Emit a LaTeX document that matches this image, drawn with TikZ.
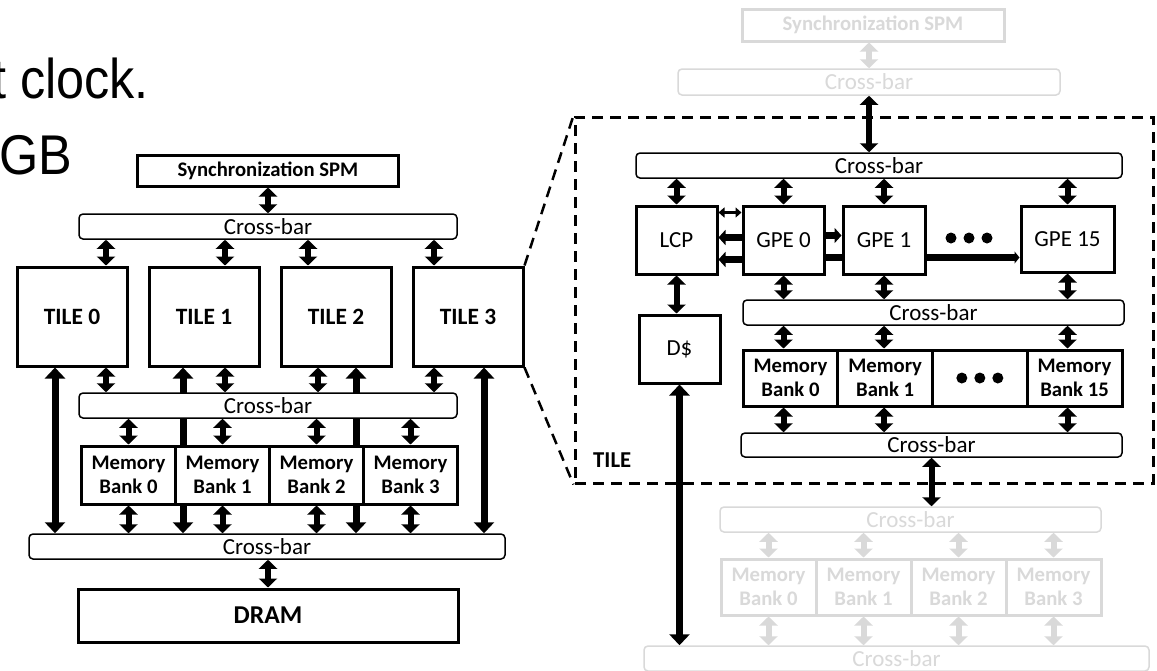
\documentclass[tikz,border=0pt]{standalone}
\usepackage{fontspec}
\setmainfont{Carlito}
\newfontfamily\slidefont{Liberation Sans}
\usetikzlibrary{arrows.meta, backgrounds}
\definecolor{fadeGray}{RGB}{217,217,217}

\begin{document}
\begin{tikzpicture}[x=1pt, y=-1pt,
  blk/.style={draw, line width=3pt, fill=white, inner sep=0pt, align=center},
  pe/.style={blk, font=\fontsize{23}{26}\selectfont, minimum width=81pt, minimum height=68pt},
  xbar/.style={draw, line width=1.5pt, rounded corners=4pt, fill=white, inner sep=0pt,
    minimum height=25pt, font=\fontsize{23}{26}\selectfont},
  lbl/.style={font=\bfseries\fontsize{20.7}{24}\selectfont},
  faded/.style={draw=fadeGray, text=fadeGray},
  slide/.style={anchor=base west, inner sep=0pt, font=\slidefont\fontsize{56}{60}\selectfont},
  dbl/.style={line width=6pt, {Triangle[width=18pt,length=9pt]}-{Triangle[width=18pt,length=9pt]}},
  tall/.style={line width=7pt, {Triangle[width=20pt,length=11pt]}-{Triangle[width=20pt,length=11pt]}},
  bus/.style={line width=7pt, -{Triangle[width=15pt,length=7pt]}},
]
  \useasboundingbox (0,0) rectangle (1157,670);
  \node[slide] (clk) at (-8,98) {\scalebox{0.9}[1]{t clock.}};
  \node[slide] (gb) at (-1,174) {\scalebox{0.9}[1]{GB}};

  % chip
  \node[blk, lbl, minimum width=261pt, minimum height=31pt] (spm) at (268,170.5) {Synchronization SPM};
  \node[xbar, minimum width=378pt] (xbA) at (268,226.5) {Cross-bar};
  \foreach \i in {0,...,3}
    \node[blk, font=\bfseries\fontsize{23.4}{26}\selectfont, minimum width=110pt,
      minimum height=99pt] (tile\i) at (72+132*\i,316.5) {TILE \i};
  \node[xbar, minimum width=378pt] (xbB) at (268,405.5) {Cross-bar};
  \foreach \i in {0,...,3}
    \node[blk, lbl, minimum width=94pt, minimum height=58pt] (bank\i) at (128.5+94*\i,475) {Memory\\Bank \i};
  \node[xbar, minimum width=476pt] (xbC) at (267,546.5) {Cross-bar};
  \node[blk, font=\bfseries\fontsize{25.7}{28}\selectfont, minimum width=380pt,
    minimum height=53pt] (dram) at (268,615.5) {DRAM};

  \draw[dbl] (spm) -- (xbA);
  \foreach \i/\x in {0/106,1/225,2/308,3/434}
    \draw[dbl] (xbA.south -| \x,0) -- (tile\i.north -| \x,0);
  \foreach \i/\x in {0/106,1/225,2/318,3/434}
    \draw[dbl] (tile\i.south -| \x,0) -- (xbB.north -| \x,0);
  \foreach \i in {0,...,3} {
    \draw[dbl] (xbB.south -| bank\i.north) -- (bank\i.north);
    \draw[dbl] (bank\i.south) -- (xbC.north -| bank\i.south);
  }
  \draw[dbl] (xbC.south -| dram.north) -- (dram.north);
  \begin{pgfonlayer}{background}
    \foreach \i/\x in {0/55,1/183,2/356,3/484}
      \draw[tall] (tile\i.south -| \x,0) -- (xbC.north -| \x,0);
  \end{pgfonlayer}

  % tile
  \node[blk, lbl, faded, minimum width=262pt, minimum height=32pt] (fSpm) at (873,25) {Synchronization SPM};
  \node[xbar, faded, minimum width=382pt, minimum height=26pt] (fXbA) at (869,82) {Cross-bar};
  \draw[dbl, fadeGray] (fXbA.north |- fSpm.south) -- (fXbA.north);

  \node[draw, line width=3pt, dash pattern=on 11pt off 7pt, minimum width=578pt,
    minimum height=366pt] (tileBox) at (864,300) {};
  \draw[line width=2.5pt, dash pattern=on 11pt off 7pt] (tile3.north east) -- (tileBox.north west);
  \draw[line width=2.5pt, dash pattern=on 11pt off 7pt] (tile3.south east) -- (tileBox.south west);
  \node[font=\bfseries\fontsize{22.7}{26}\selectfont, anchor=base west, inner sep=0pt] (tileLbl) at (593,467) {TILE};

  \node[xbar, minimum width=486pt] (xbT) at (879,165.5) {Cross-bar};
  \node[pe] (lcp) at (676.5,240) {LCP};
  \node[pe] (gpe0) at (783.5,240) {GPE 0};
  \node[pe, minimum width=82pt] (gpe1) at (884,240) {GPE 1};
  \node[pe, minimum width=93pt, minimum height=66pt] (gpe15) at (1067.5,239) {GPE 15};
  \foreach \x in {951,969,987}
    \fill (\x,238) circle (5.5pt);
  \node[xbar, minimum width=381pt] (xbU) at (933.5,312.5) {Cross-bar};
  \node[pe] (dc) at (679.5,349) {D\$};
  \foreach \i/\t in {0/{Memory\\Bank 0},1/{Memory\\Bank 1},2/{},3/{Memory\\Bank 15}}
    \node[blk, lbl, minimum width=95pt, minimum height=56pt] (rbank\i) at (790.5+94.67*\i,378) {\t};
  \foreach \dx in {-18,0,18}
    \fill ([xshift=\dx pt]rbank2.center) circle (5.5pt);
  \node[xbar, minimum width=381pt, minimum height=24pt] (xbV) at (931.5,445) {Cross-bar};

  \node[xbar, faded, minimum width=381pt] (fXbB) at (910.5,519.5) {Cross-bar};
  \foreach \i in {0,...,3}
    \node[blk, lbl, faded, minimum width=95pt, minimum height=56pt] (fbank\i) at (768.5+95*\i,587) {Memory\\Bank \i};
  \node[xbar, faded, minimum width=505pt] (fXbC) at (896.5,658.5) {Cross-bar};

  \draw[dbl] (fXbA.south) -- (fXbA.south |- xbT.north);
  \foreach \n in {lcp,gpe0,gpe1,gpe15}
    \draw[dbl] (xbT.south -| \n.north) -- (\n.north);
  \foreach \n/\b in {gpe0/0,gpe1/1,gpe15/3} {
    \draw[dbl] (\n.south) -- (\n.south |- xbU.north);
    \draw[dbl] (xbU.south -| \n.south) -- (\n.south |- rbank\b.north);
    \draw[dbl] (rbank\b.south -| \n.south) -- (\n.south |- xbV.north);
  }
  \draw[dbl] (lcp.south) -- (lcp.south |- dc.north);
  \draw[line width=2.5pt, {Triangle[width=10pt,length=6pt]}-{Triangle[width=10pt,length=6pt]}]
    ([yshift=-8pt]gpe0.north west) -- ([yshift=-8pt]lcp.north east);
  \draw[bus] ([yshift=-33pt]gpe0.north west) -- ([yshift=-33pt]lcp.north east);
  \draw[bus] ([yshift=-55pt]gpe0.north west) -- ([yshift=-55pt]lcp.north east);
  \draw[bus] ([yshift=-31pt]gpe0.north east) -- ([yshift=-31pt]gpe1.north west);
  \draw[line width=7pt] ([yshift=-53pt]gpe0.north east) -- ([yshift=-53pt]gpe1.north west);
  \draw[line width=7pt, -{Triangle[width=12pt,length=5pt]}]
    ([yshift=-53pt]gpe1.north east) -- ([yshift=-53pt]gpe15.north west);
  \draw[dbl] (xbV.south) -- (xbV.south |- fXbB.north);
  \draw[tall] (dc.south) -- (dc.south |- fXbC.north);
  \foreach \i in {0,...,3} {
    \draw[dbl, fadeGray] (fXbB.south -| fbank\i.north) -- (fbank\i.north);
    \draw[dbl, fadeGray] (fbank\i.south) -- (fbank\i.south |- fXbC.north);
  }
\end{tikzpicture}
\end{document}
